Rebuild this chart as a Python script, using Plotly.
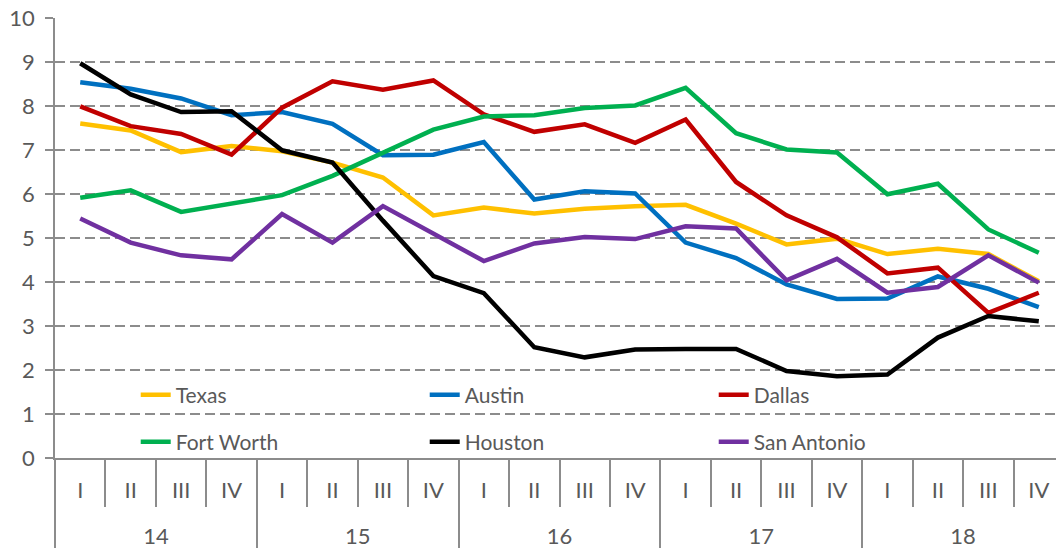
import plotly.graph_objects as go

# quarters 2014-2018
years = ['14'] * 4 + ['15'] * 4 + ['16'] * 4 + ['17'] * 4 + ['18'] * 4
# the blank second line gives the quarter row the height it has in the original
quarters = [q + '<br>\u00a0' for q in ['I', 'II', 'III', 'IV']] * 5

texas = [7.61, 7.45, 6.96, 7.10, 6.98, 6.72, 6.38, 5.52, 5.70, 5.56,
         5.67, 5.73, 5.76, 5.33, 4.86, 4.99, 4.64, 4.76, 4.64, 4.02]
austin = [8.55, 8.40, 8.18, 7.80, 7.87, 7.60, 6.89, 6.90, 7.19, 5.88,
          6.07, 6.02, 4.90, 4.55, 3.95, 3.62, 3.63, 4.13, 3.85, 3.43]
dallas = [8.00, 7.55, 7.37, 6.90, 7.97, 8.57, 8.38, 8.59, 7.82, 7.42,
          7.59, 7.17, 7.70, 6.28, 5.52, 5.02, 4.20, 4.33, 3.30, 3.76]
fort_worth = [5.92, 6.09, 5.60, 5.80, 5.98, 6.42, 6.94, 7.47, 7.77, 7.80,
              7.96, 8.02, 8.42, 7.39, 7.02, 6.95, 6.00, 6.24, 5.20, 4.67]
houston = [8.98, 8.27, 7.87, 7.89, 7.00, 6.72, 5.40, 4.14, 3.75, 2.52,
           2.29, 2.47, 2.48, 2.48, 1.98, 1.86, 1.90, 2.74, 3.23, 3.11]
san_antonio = [5.45, 4.90, 4.61, 4.52, 5.55, 4.90, 5.73, 5.11, 4.48, 4.88,
               5.03, 4.98, 5.27, 5.22, 4.04, 4.53, 3.76, 3.89, 4.61, 3.99]

series = [
    ('Texas', texas, '#FFC000', 'legend'),
    ('Austin', austin, '#0070C0', 'legend'),
    ('Dallas', dallas, '#C00000', 'legend'),
    ('Fort Worth', fort_worth, '#00B050', 'legend2'),
    ('Houston', houston, '#000000', 'legend2'),
    ('San Antonio', san_antonio, '#7030A0', 'legend2'),
]

fig = go.Figure()
for name, vals, color, leg in series:
    fig.add_trace(go.Scatter(
        x=[years, quarters], y=vals, name=name, mode='lines',
        line=dict(color=color, width=4.5), legend=leg,
    ))

font = dict(family='Lato, Open Sans, sans-serif', size=21, color='#595959')
tick_font = dict(family='Lato, Open Sans, sans-serif', size=22, color='#595959')
grey = '#8c8c8c'

leg_common = dict(
    orientation='h', entrywidth=244, xanchor='left', yanchor='middle',
    bgcolor='rgba(0,0,0,0)', font=font, itemwidth=30,
)

# page has an 8px body margin, so the figure is a bit smaller than the window
fig.update_layout(
    width=1056, height=540,
    margin=dict(l=47, r=0, t=10, b=90),
    paper_bgcolor='white', plot_bgcolor='white',
    font=font,
    legend=dict(x=0.080, y=0.143, **leg_common),
    legend2=dict(x=0.080, y=0.036, **leg_common),
    xaxis=dict(
        type='multicategory', range=[-0.5, 19.5], automargin=False,
        showline=True, linecolor=grey, linewidth=1.5,
        ticks='outside', tickson='boundaries', ticklen=47, tickcolor=grey,
        tickwidth=1.5, dividercolor=grey, dividerwidth=1.5, showgrid=False,
        tickfont=tick_font, ticklabelstandoff=12,
    ),
    yaxis=dict(
        range=[0, 10.01], tickvals=list(range(11)), automargin=False,
        showline=True, linecolor=grey, linewidth=1.5,
        ticks='outside', ticklen=8, tickcolor=grey, tickwidth=1.5,
        showgrid=True, gridcolor=grey, gridwidth=1.5, griddash='10px,5px',
        zeroline=False, tickfont=tick_font, ticklabelstandoff=6,
        ticklabeloverflow='allow',
    ),
)

fig.write_html("out.html")
